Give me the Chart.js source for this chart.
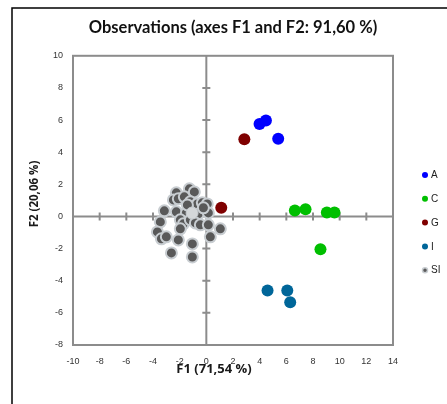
<!DOCTYPE html>
<html>
<head>
<meta charset="utf-8">
<script src="https://cdn.jsdelivr.net/npm/chart.js@4.4.1/dist/chart.umd.min.js"></script>
<style>
  html, body { margin: 0; padding: 0; background: #fff; }
</style>
</head>
<body>
<canvas id="myChart" width="447" height="404"></canvas>
<script>
const chartTitle = "Observations (axes F1 and F2: 91,60 %)";
const xTitle = "F1 (71,54 %)";
const yTitle = "F2 (20,06 %)";
const xTicks = { min: -10, max: 14, step: 2 };
const yTicks = { min: -8, max: 10, step: 2 };

const groups = ["A", "C", "G", "I", "SI"];
const aX = [3.99, 4.47, 5.39];
const aY = [5.76, 5.97, 4.83];
const cX = [6.64, 7.44, 9.04, 9.61, 8.56];
const cY = [0.37, 0.45, 0.24, 0.24, -2.04];
const gX = [2.85, 1.12];
const gY = [4.81, 0.54];
const iX = [4.59, 6.07, 6.29];
const iY = [-4.61, -4.61, -5.34];
const siX = [-1.27, -0.90, -2.25, -2.47, -2.10, -1.65, -1.20, -0.67, -0.30, 0.07,
  -3.15, -2.25, -1.50, -0.60, 0.15, -3.45, -1.95, -1.72, -1.20, -0.82,
  -0.45, 0.15, 1.05, -3.67, -1.95, -3.37, -3.00, -2.10, 0.30, -1.05,
  -2.62, -1.05, -1.42, -0.22];
const siY = [1.72, 1.53, 1.47, 1.03, 1.10, 1.22, 0.91, 0.78, 0.85, 0.78,
  0.35, 0.29, 0.22, 0.16, 0.22, -0.34, -0.21, -0.46, -0.21, -0.40,
  -0.52, -0.52, -0.77, -0.96, -0.77, -1.39, -1.27, -1.46, -1.27, -1.71,
  -2.27, -2.52, 0.72, 0.54];
const siCentreX = [-1.07];
const siCentreY = [0.21];

const toPoints = (xs, ys) => xs.map((x, i) => ({ x: x, y: ys[i] }));

const colors = {
  A: "#0000ff",
  C: "#00bf00",
  G: "#7f0000",
  I: "#006699",
  SI: "#595959"
};

const datasets = [
  { label: "A", data: toPoints(aX, aY), backgroundColor: colors.A, borderWidth: 0, pointRadius: 6 },
  { label: "C", data: toPoints(cX, cY), backgroundColor: colors.C, borderWidth: 0, pointRadius: 6 },
  { label: "G", data: toPoints(gX, gY), backgroundColor: colors.G, borderWidth: 0, pointRadius: 6 },
  { label: "I", data: toPoints(iX, iY), backgroundColor: colors.I, borderWidth: 0, pointRadius: 6 },
  { label: "SI", data: toPoints(siCentreX, siCentreY), backgroundColor: "#d4d7d9", borderColor: "#c5cace", borderWidth: 1, pointRadius: 6 },
  { label: "SI", data: toPoints(siX, siY), backgroundColor: colors.SI, borderColor: "#c8cdd1", borderWidth: 2, pointRadius: 5.5 }
];

const tickFont = { family: "Liberation Sans", size: 9 };
const frameColor = "#8c8c8c";

const framePlugin = {
  id: "frame",
  beforeDraw(chart) {
    const ctx = chart.ctx;
    ctx.save();
    ctx.strokeStyle = "#000";
    ctx.lineWidth = 1.5;
    ctx.strokeRect(12, 8, 600, 600);
    ctx.restore();
  },
  beforeDatasetsDraw(chart) {
    const { ctx, chartArea, scales } = chart;
    const x0 = scales.x.getPixelForValue(0);
    const y0 = scales.y.getPixelForValue(0);
    ctx.save();
    ctx.strokeStyle = frameColor;
    ctx.lineWidth = 2;
    ctx.strokeRect(chartArea.left, chartArea.top, chartArea.right - chartArea.left, chartArea.bottom - chartArea.top);
    ctx.beginPath();
    ctx.moveTo(chartArea.left, y0);
    ctx.lineTo(chartArea.right, y0);
    ctx.moveTo(x0, chartArea.top);
    ctx.lineTo(x0, chartArea.bottom);
    for (let v = xTicks.min + xTicks.step; v < xTicks.max; v += xTicks.step) {
      const px = scales.x.getPixelForValue(v);
      ctx.moveTo(px, y0 - 4);
      ctx.lineTo(px, y0 + 4);
    }
    for (let v = yTicks.min + yTicks.step; v < yTicks.max; v += yTicks.step) {
      const py = scales.y.getPixelForValue(v);
      ctx.moveTo(x0 - 4, py);
      ctx.lineTo(x0 + 4, py);
    }
    ctx.stroke();
    ctx.restore();
  },
  afterDraw(chart) {
    const ctx = chart.ctx;
    ctx.save();
    // axis titles
    ctx.fillStyle = "#1a1a1a";
    ctx.textAlign = "center";
    ctx.textBaseline = "middle";
    ctx.font = "bold 13px 'Open Sans'";
    ctx.fillText(xTitle, 214, 369);
    ctx.translate(35, 194);
    ctx.rotate(-Math.PI / 2);
    ctx.font = "bold 11.5px 'Open Sans'";
    ctx.fillText(yTitle, 0, 0);
    ctx.restore();

    // legend
    ctx.save();
    ctx.font = "10px 'Liberation Sans'";
    ctx.textBaseline = "middle";
    ctx.textAlign = "left";
    groups.forEach((g, i) => {
      const y = 175 + i * 23.8;
      ctx.beginPath();
      ctx.arc(425, y, g === "SI" ? 2.5 : 3, 0, Math.PI * 2);
      ctx.fillStyle = colors[g];
      ctx.fill();
      if (g === "SI") {
        ctx.strokeStyle = "#c8cdd1";
        ctx.lineWidth = 1.5;
        ctx.stroke();
      }
      ctx.fillStyle = "#222";
      ctx.fillText(g, 431, y + 0.5);
    });
    ctx.restore();
  }
};

const config = {
  type: "scatter",
  data: { datasets },
  options: {
    responsive: false,
    animation: false,
    layout: { padding: { top: 0, right: 54, bottom: 0, left: 0 } },
    elements: { point: { hoverRadius: 6 } },
    plugins: {
      legend: { display: false },
      tooltip: { enabled: false },
      title: {
        display: true,
        text: chartTitle,
        fullSize: false,
        color: "#111",
        font: { family: "Lato", size: 16.5, weight: "bold" },
        padding: { top: 18, bottom: 18 }
      }
    },
    scales: {
      x: {
        type: "linear",
        position: "bottom",
        min: xTicks.min,
        max: xTicks.max,
        ticks: { stepSize: xTicks.step, padding: 11, font: tickFont, color: "#333", maxRotation: 0 },
        grid: { display: false, drawTicks: false },
        border: { display: false },
        afterFit: (s) => { s.height = 59; }
      },
      y: {
        type: "linear",
        position: "left",
        min: yTicks.min,
        max: yTicks.max,
        ticks: { stepSize: yTicks.step, padding: 10, font: tickFont, color: "#333" },
        grid: { display: false, drawTicks: false },
        border: { display: false },
        afterFit: (s) => { s.width = 73; }
      }
    }
  },
  plugins: [framePlugin]
};

const chart = new Chart(document.getElementById("myChart"), config);
</script>
</body>
</html>
